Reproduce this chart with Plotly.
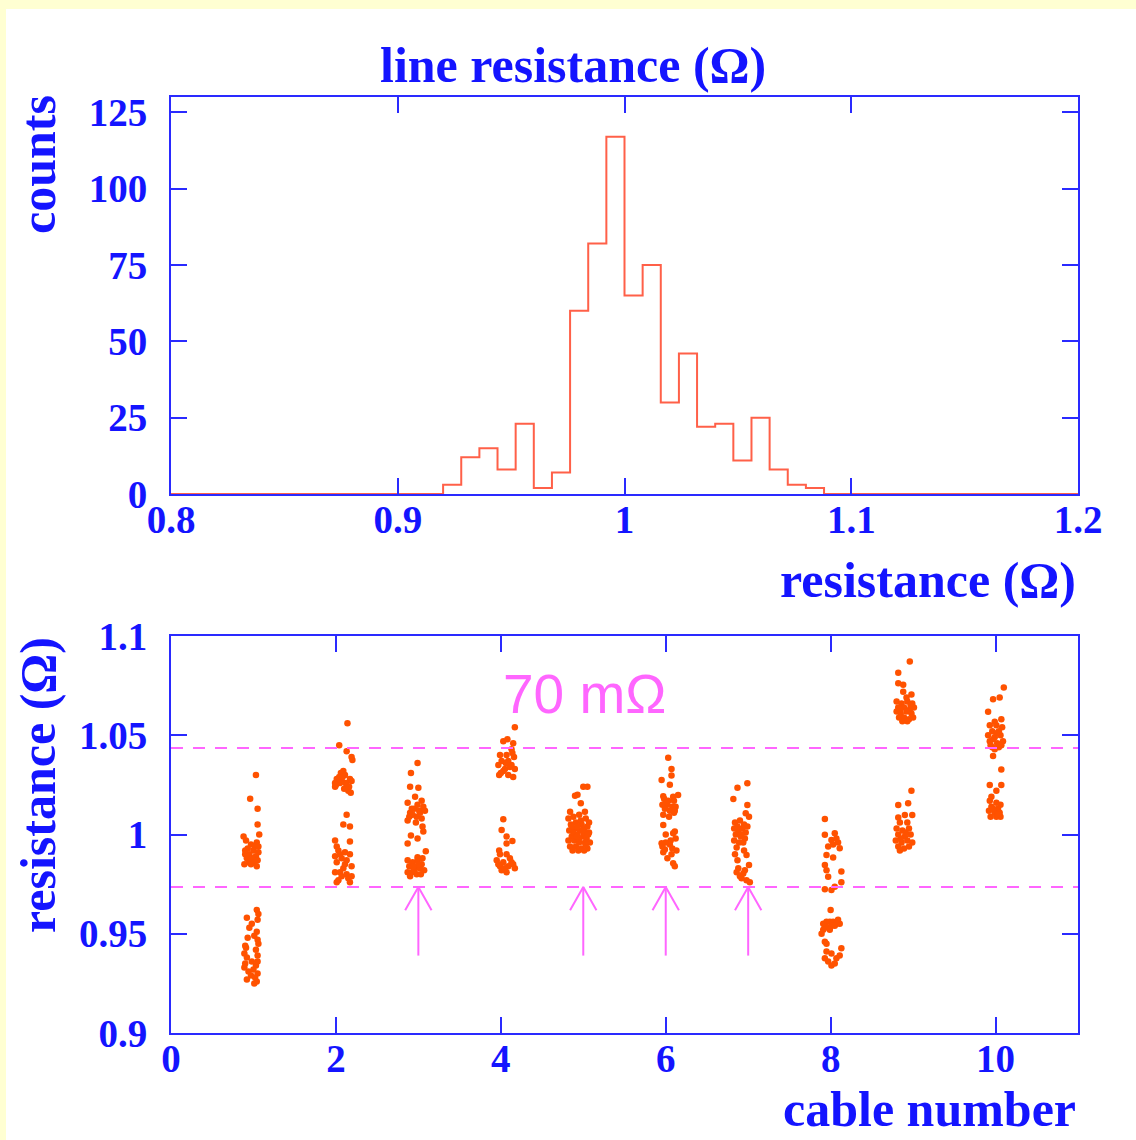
import plotly.graph_objects as go

# ---------------- data ----------------
bin_edges = [0.920, 0.928, 0.936, 0.944, 0.952, 0.960, 0.968, 0.976, 0.984, 0.992,
             1.000, 1.008, 1.016, 1.024, 1.032, 1.040, 1.048, 1.056, 1.064, 1.072,
             1.080, 1.088]
bin_counts = [3, 12, 15, 8, 23, 2, 7, 60, 82, 117, 65, 75, 30, 46, 22, 23, 11, 25, 8, 3, 2]
hist_range = [0.8, 1.2]

cable1 = [(1.03, 1.030), (0.96, 1.018), (1.05, 1.013), (1.05, 1.005), (1.07, 1.000), (0.88, 0.999),
          (0.91, 0.997), (1.04, 0.996), (0.97, 0.995), (1.02, 0.994), (0.93, 0.993), (1.00, 0.992),
          (1.06, 0.991), (0.90, 0.990), (0.95, 0.990), (1.03, 0.989), (0.92, 0.988), (0.99, 0.988),
          (1.05, 0.987), (0.94, 0.986), (1.01, 0.986), (0.89, 0.985), (0.97, 0.985), (1.04, 0.984),
          (0.90, 0.992), (1.06, 0.994),
          (1.04, 0.962), (1.06, 0.960), (0.92, 0.958), (1.05, 0.957), (0.98, 0.955), (0.95, 0.953),
          (1.04, 0.951), (1.01, 0.949), (0.93, 0.948), (1.05, 0.947), (1.06, 0.945), (0.91, 0.943),
          (1.03, 0.942), (0.89, 0.940), (1.05, 0.939), (0.92, 0.938), (0.98, 0.936), (0.90, 0.935),
          (1.03, 0.934), (0.89, 0.933), (1.00, 0.932), (0.94, 0.931), (1.05, 0.930), (0.97, 0.929),
          (1.02, 0.928), (0.92, 0.927), (1.04, 0.926), (1.01, 0.925), (0.90, 0.944), (1.05, 0.936)]
cable2 = [(2.14, 1.056), (2.04, 1.045), (2.13, 1.042), (2.19, 1.039), (2.20, 1.0375),
          (2.09, 1.032), (2.06, 1.031), (2.11, 1.030), (2.01, 1.028), (2.07, 1.027), (2.17, 1.028),
          (2.19, 1.027), (1.99, 1.026), (2.05, 1.026), (2.13, 1.025), (1.99, 1.024), (2.10, 1.023),
          (2.15, 1.022), (2.18, 1.021), (2.04, 1.029), (2.12, 1.026), (2.00, 1.025), (2.08, 1.029),
          (2.16, 1.024),
          (2.13, 1.010), (2.09, 1.005), (2.17, 1.004), (1.99, 0.997), (2.17, 0.9965), (2.01, 0.994),
          (2.03, 0.992), (2.11, 0.991), (2.17, 0.990), (1.99, 0.989), (2.07, 0.988), (2.13, 0.987),
          (2.01, 0.986), (2.19, 0.984), (2.09, 0.983), (1.99, 0.981), (2.05, 0.981), (2.13, 0.980),
          (2.15, 0.978), (2.01, 0.976), (2.17, 0.976), (2.07, 0.979), (2.11, 0.985), (2.03, 0.977),
          (2.19, 0.979), (2.05, 0.990)]
cable3 = [(2.99, 1.036), (2.91, 1.031), (2.90, 1.024), (3.00, 1.0235), (2.96, 1.019), (3.04, 1.017),
          (2.87, 1.016), (3.06, 1.014), (2.90, 1.011), (3.02, 1.011), (2.98, 1.009), (2.87, 1.007),
          (2.95, 1.013), (3.01, 1.012), (2.93, 1.010), (3.04, 1.008), (2.97, 1.006), (2.92, 1.013),
          (3.08, 1.012), (2.99, 1.015), (2.89, 1.009), (3.05, 1.004), (3.06, 1.0015), (2.91, 0.9995),
          (2.99, 0.998), (2.87, 0.9955), (3.09, 0.9915), (2.99, 0.9885),
          (2.87, 0.987), (2.93, 0.986), (2.99, 0.987), (3.04, 0.985), (2.89, 0.984), (2.96, 0.983),
          (3.02, 0.983), (3.07, 0.982), (2.87, 0.981), (2.92, 0.981), (2.98, 0.980), (3.03, 0.980),
          (2.90, 0.979), (2.95, 0.982), (3.00, 0.985), (2.94, 0.984), (3.05, 0.988)]
cable4 = [(4.17, 1.054), (4.08, 1.048), (4.03, 1.047), (4.15, 1.046), (4.13, 1.043),
          (3.99, 1.040), (4.07, 1.040), (4.16, 1.039), (4.01, 1.037), (4.09, 1.037), (3.97, 1.035),
          (4.13, 1.035), (4.05, 1.033), (4.17, 1.033), (3.98, 1.030), (4.09, 1.030), (4.15, 1.029),
          (4.03, 1.032), (4.11, 1.034), (4.06, 1.036), (4.00, 1.031), (4.14, 1.041),
          (4.03, 1.0077), (4.01, 1.0023), (4.07, 0.999), (4.14, 0.9967), (4.07, 0.9955), (3.98, 0.992),
          (3.99, 0.990), (4.07, 0.990), (3.95, 0.987), (4.03, 0.986), (4.13, 0.986), (3.99, 0.984),
          (4.09, 0.984), (4.17, 0.983), (4.01, 0.982), (4.07, 0.981), (4.11, 0.988), (3.97, 0.985),
          (4.05, 0.983), (4.15, 0.985)]
cable5 = [(5.00, 1.024), (5.05, 1.024), (4.90, 1.0195), (4.93, 1.020), (4.97, 1.0157), (4.84, 1.0115),
          (5.02, 1.0115), (4.82, 1.008), (4.88, 1.009), (4.95, 1.010), (5.03, 1.008), (5.07, 1.006),
          (4.85, 1.005), (4.91, 1.006), (4.98, 1.005), (5.05, 1.004), (4.83, 1.002), (4.90, 1.003),
          (4.96, 1.002), (5.01, 1.003), (5.07, 1.001), (4.86, 0.999), (4.93, 1.000), (5.00, 0.999),
          (5.04, 0.998), (4.82, 0.997), (4.89, 0.997), (4.95, 0.996), (5.02, 0.996), (5.08, 0.996),
          (4.84, 0.994), (4.91, 0.994), (4.98, 0.993), (5.05, 0.993), (4.87, 0.992), (4.94, 0.992),
          (5.01, 0.992), (4.97, 1.007), (5.01, 1.001), (4.88, 1.001), (4.95, 0.998), (5.06, 1.000),
          (4.92, 0.999), (4.99, 1.002), (4.86, 1.004), (5.03, 0.995), (4.93, 1.004)]
cable6 = [(6.03, 1.0387), (6.07, 1.033), (6.07, 1.0297), (5.95, 1.0275), (6.05, 1.0251), (6.15, 1.0199),
          (5.97, 1.0193), (6.09, 1.019), (5.98, 1.018), (6.03, 1.017), (6.10, 1.017), (5.96, 1.015),
          (6.02, 1.015), (6.08, 1.014), (6.12, 1.014), (5.99, 1.013), (6.05, 1.012), (6.10, 1.011),
          (5.97, 1.010), (6.04, 1.009), (6.11, 1.012), (6.00, 1.016), (5.97, 1.0048), (6.09, 1.0006),
          (6.00, 1.000), (6.11, 1.0015), (5.95, 0.9956), (6.05, 0.995), (5.99, 0.9924), (6.13, 0.992),
          (5.97, 0.991), (6.07, 0.990), (6.09, 0.9855), (6.11, 0.984), (6.02, 0.988), (5.96, 0.994),
          (6.06, 0.997), (6.12, 0.998), (6.00, 0.996), (6.08, 0.993)]
cable7 = [(6.99, 1.0258), (6.87, 1.0236), (6.82, 1.0179), (6.99, 1.0149), (6.97, 1.0107), (7.01, 1.009),
          (6.84, 1.006), (6.90, 1.007), (6.95, 1.005), (6.99, 1.004), (6.83, 1.003), (6.88, 1.002),
          (6.93, 1.003), (6.97, 1.001), (6.85, 1.000), (6.91, 0.999), (6.96, 0.998), (6.83, 0.997),
          (6.89, 0.996), (6.94, 0.996), (6.87, 1.004), (6.92, 1.000), (6.86, 0.9935), (6.98, 0.9897),
          (6.87, 0.987), (7.01, 0.9846), (6.88, 0.983), (6.94, 0.9804), (6.90, 0.979), (6.98, 0.977),
          (7.02, 0.976), (6.86, 0.981), (6.92, 0.978), (6.96, 0.982), (6.84, 0.990), (6.95, 0.992)]
cable8 = [(7.93, 1.0078), (8.05, 1.0006), (7.93, 0.9999), (8.01, 0.9972), (8.09, 0.996), (8.11, 0.9931),
          (7.97, 0.994), (8.07, 0.998), (8.03, 0.995), (7.95, 0.9897), (8.03, 0.9884), (7.93, 0.9846),
          (7.95, 0.982), (8.13, 0.9813), (7.97, 0.9787), (8.13, 0.976), (7.93, 0.9724), (8.01, 0.972),
          (8.05, 0.9737), (8.00, 0.962), (7.91, 0.955), (7.95, 0.956), (7.99, 0.956), (8.03, 0.956),
          (8.07, 0.955), (8.11, 0.955), (7.93, 0.954), (7.97, 0.953), (8.01, 0.954), (8.05, 0.954),
          (7.91, 0.952), (8.09, 0.957), (7.99, 0.952), (7.89, 0.950), (7.93, 0.946), (7.95, 0.945),
          (8.13, 0.9427), (8.01, 0.940), (7.93, 0.9376), (8.07, 0.9376), (8.11, 0.939), (8.01, 0.934),
          (7.97, 0.936), (8.05, 0.935), (7.95, 0.941)]
cable9 = [(8.96, 1.0871), (8.82, 1.0815), (8.82, 1.0762), (8.88, 1.0755), (8.88, 1.0719), (8.98, 1.0705),
          (8.92, 1.069), (8.80, 1.067), (8.86, 1.066), (8.93, 1.067), (8.99, 1.066), (8.82, 1.064),
          (8.89, 1.064), (8.96, 1.063), (9.01, 1.064), (8.80, 1.062), (8.85, 1.061), (8.92, 1.062),
          (8.98, 1.061), (8.83, 1.059), (8.89, 1.059), (8.95, 1.058), (9.00, 1.059), (8.87, 1.057),
          (8.93, 1.057), (8.97, 1.065), (8.84, 1.063),
          (8.98, 1.0221), (8.82, 1.0149), (8.94, 1.0157), (8.90, 1.0098), (8.99, 1.0098), (8.82, 1.0086),
          (8.84, 1.006), (8.93, 1.006), (8.80, 1.003), (8.87, 1.002), (8.95, 1.003), (8.82, 1.000),
          (8.90, 0.999), (8.97, 1.000), (8.79, 0.997), (8.86, 0.996), (8.93, 0.997), (8.99, 0.996),
          (8.82, 0.994), (8.89, 0.993), (8.95, 0.994), (8.85, 0.998), (8.91, 1.001), (8.84, 0.992)]
cable10 = [(10.10, 1.074), (9.97, 1.0681), (10.05, 1.069), (9.91, 1.0619), (9.99, 1.0568), (10.07, 1.058),
           (9.93, 1.055), (10.01, 1.055), (10.08, 1.054), (9.96, 1.052), (10.04, 1.052), (9.91, 1.050),
           (9.99, 1.049), (10.06, 1.050), (9.93, 1.047), (10.02, 1.046), (10.09, 1.047), (9.96, 1.044),
           (10.04, 1.044), (9.99, 1.043), (10.07, 1.045), (9.94, 1.045), (10.01, 1.051), (9.97, 1.048),
           (9.97, 1.0395), (10.07, 1.0328), (9.93, 1.0249), (10.07, 1.0249), (10.01, 1.022), (9.95, 1.019),
           (9.93, 1.017), (10.01, 1.016), (10.06, 1.015), (9.95, 1.014), (10.03, 1.013), (9.92, 1.012),
           (9.99, 1.011), (10.05, 1.011), (9.94, 1.009), (10.01, 1.009), (10.06, 1.009), (9.97, 1.013),
           (10.03, 1.010)]
cables = [cable1, cable2, cable3, cable4, cable5, cable6, cable7, cable8, cable9, cable10]

band_lines = [0.9736, 1.0436]          # the 70 mOhm window
arrow_cables = [3, 5, 6, 7]
arrow_base, arrow_tip = 0.939, 0.9736
band_label = "70 mΩ"

# ---------------- style ----------------
BLUE = "#1414ff"
AXIS = "#2a2aff"
RED = "#ff6048"
DOT = "#ff5200"
MAG = "#ff66ff"
SERIF = "Liberation Serif, Times New Roman, serif"
W, H = 1136, 1140

fig = go.Figure()

# histogram as a step outline over the full x range
xs = [hist_range[0]]
ys = [0]
for i, c in enumerate(bin_counts):
    xs += [bin_edges[i], bin_edges[i], bin_edges[i + 1]]
    ys += [ys[-1], c, c]
xs += [bin_edges[-1], hist_range[1]]
ys += [0, 0]
fig.add_trace(go.Scatter(x=xs, y=ys, mode="lines", line=dict(color=RED, width=2),
                         xaxis="x", yaxis="y", hoverinfo="skip", showlegend=False))

# scatter of per-line resistance vs cable
sx = [p[0] for c in cables for p in c]
sy = [p[1] for c in cables for p in c]
fig.add_trace(go.Scatter(x=sx, y=sy, mode="markers",
                         marker=dict(color=DOT, size=6.5, line=dict(width=0)),
                         xaxis="x2", yaxis="y2", showlegend=False))

# arrows (shaft + open V head)
ax, ay = [], []
hw, hh = 0.16, 0.0118
for c in arrow_cables:
    ax += [c, c, None, c - hw, c, c + hw, None]
    ay += [arrow_base, arrow_tip, None, arrow_tip - hh, arrow_tip, arrow_tip - hh, None]
fig.add_trace(go.Scatter(x=ax, y=ay, mode="lines", line=dict(color=MAG, width=2),
                         xaxis="x2", yaxis="y2", hoverinfo="skip", showlegend=False))

shapes = [dict(type="rect", xref="paper", yref="paper", x0=6 / W, x1=1.0, y0=0.0, y1=1 - 9 / H,
               fillcolor="white", line=dict(width=0), layer="below")]
for v in band_lines:
    shapes.append(dict(type="line", xref="x2", yref="y2", x0=0, x1=11, y0=v, y1=v,
                       line=dict(color=MAG, width=2, dash="12px,10px")))

x0d, x1d = 171 / W, 1078 / W
top_dom = [1 - 494 / H, 1 - 97 / H]
bot_dom = [1 - 1033 / H, 1 - 636 / H]

tickfont = dict(family=SERIF, size=39, color=BLUE, weight="bold")
common = dict(showline=True, linecolor=AXIS, linewidth=2, mirror="ticks", ticks="inside",
              ticklen=16, tickwidth=2, tickcolor=AXIS, showgrid=False, zeroline=False,
              tickfont=tickfont, automargin=False)

fig.update_layout(
    width=W, height=H, margin=dict(l=0, r=0, t=0, b=0, pad=0, autoexpand=False),
    paper_bgcolor="#ffffd2", plot_bgcolor="white", showlegend=False,
    shapes=shapes,
    xaxis=dict(domain=[x0d, x1d], range=hist_range, anchor="y",
               tickvals=[0.8, 0.9, 1.0, 1.1, 1.2], ticktext=["0.8", "0.9", "1", "1.1", "1.2"],
               ticklabelstandoff=-10, **common),
    yaxis=dict(domain=top_dom, range=[0, 130], anchor="x",
               tickvals=[0, 25, 50, 75, 100, 125], ticklabelstandoff=14, **common),
    xaxis2=dict(domain=[x0d, x1d], range=[0, 11], anchor="y2",
                tickvals=[0, 2, 4, 6, 8, 10], ticklabelstandoff=-10, **common),
    yaxis2=dict(domain=bot_dom, range=[0.9, 1.1], anchor="x2",
                tickvals=[0.9, 0.95, 1.0, 1.05, 1.1], ticktext=["0.9", "0.95", "1", "1.05", "1.1"],
                ticklabelstandoff=14, **common),
)

titlefont = dict(family=SERIF, size=50, color=BLUE, weight="bold")
annots = [
    dict(text="line resistance (Ω)", x=573 / W, y=1 - 65 / H, xanchor="center", yanchor="middle"),
    dict(text="counts", x=38 / W, y=1 - 165 / H, xanchor="center", yanchor="middle", textangle=-90),
    dict(text="resistance (Ω)", x=1078 / W, y=1 - 580 / H, xanchor="right", yanchor="middle"),
    dict(text="resistance (Ω)", x=38 / W, y=1 - 785 / H, xanchor="center", yanchor="middle", textangle=-90),
    dict(text="cable number", x=1078 / W, y=1 - 1139 / H, xanchor="right", yanchor="bottom"),
]
for a in annots:
    fig.add_annotation(xref="paper", yref="paper", showarrow=False, font=titlefont, **a)

fig.add_annotation(xref="x2", yref="y2", x=5.02, y=1.071, text=band_label, showarrow=False,
                   font=dict(family="Liberation Sans, Arial, sans-serif", size=55, color=MAG))

fig.write_html("out.html", config={"displayModeBar": False},
               post_script="document.body.style.margin='0';document.body.style.overflow='hidden';")
